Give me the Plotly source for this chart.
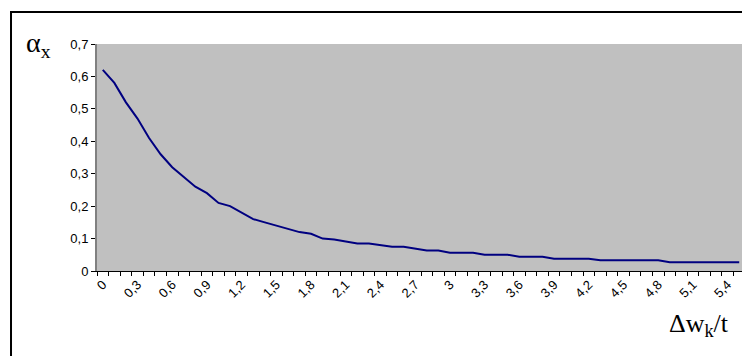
"""Зависимость alpha_x от относительного смещения"""

import plotly.graph_objects as go

# категории оси X: 0 .. 5,5 с шагом 0,1
x_labels = [f"{i / 10:g}".replace(".", ",") for i in range(56)]

alpha_x = [
    0.62, 0.58, 0.52, 0.47, 0.41, 0.36, 0.32, 0.29, 0.26, 0.24,
    0.21, 0.20, 0.18, 0.16, 0.15, 0.14, 0.13, 0.12, 0.115, 0.10,
    0.097, 0.09, 0.085, 0.085, 0.08, 0.075, 0.075, 0.07, 0.063, 0.063,
    0.056, 0.056, 0.056, 0.05, 0.05, 0.05, 0.044, 0.044, 0.044, 0.038,
    0.038, 0.038, 0.038, 0.033, 0.033, 0.033, 0.033, 0.033, 0.033, 0.027,
    0.027, 0.027, 0.027, 0.027, 0.027, 0.027,
]

x_idx = list(range(len(x_labels)))
label_idx = x_idx[::3]

fig = go.Figure()
fig.add_trace(
    go.Scatter(
        x=x_idx,
        y=alpha_x,
        mode="lines",
        line=dict(color="#000080", width=2),
        showlegend=False,
        hoverinfo="skip",
    )
)

# страница сдвигает график на 8px (отступ body), поэтому поля скорректированы
fig.update_layout(
    width=750,
    height=356,
    margin=dict(l=89, r=13, t=36, b=93, autoexpand=False),
    paper_bgcolor="white",
    plot_bgcolor="#C0C0C0",
    separators=", ",
    font=dict(family="Liberation Sans, Arial", size=13, color="black"),
    xaxis=dict(
        range=[-0.5, len(x_labels) - 0.5],
        tickvals=label_idx,
        ticktext=[x_labels[i] for i in label_idx],
        tickangle=-45,
        ticks="",
        showgrid=False,
        zeroline=False,
        showline=True,
        linecolor="black",
        linewidth=1,
        minor=dict(
            tickvals=[i - 0.5 for i in range(len(x_labels) + 1)],
            ticks="outside",
            ticklen=4,
            tickcolor="black",
            showgrid=False,
        ),
    ),
    yaxis=dict(
        range=[0, 0.7],
        dtick=0.1,
        ticks="outside",
        ticklen=4,
        tickcolor="black",
        showgrid=False,
        zeroline=False,
        showline=True,
        linecolor="#808080",
        linewidth=2,
    ),
)

# рамка диаграммы
fig.add_shape(
    type="rect",
    xref="paper",
    yref="paper",
    x0=-0.1327,
    x1=1.03,
    y0=-0.45,
    y1=1.141,
    line=dict(color="black", width=2),
    fillcolor="rgba(0,0,0,0)",
    layer="below",
)

fig.add_annotation(
    text="α<sub>x</sub>",
    xref="paper",
    yref="paper",
    x=-0.113,
    y=0.996,
    xanchor="left",
    yanchor="middle",
    showarrow=False,
    font=dict(family="Liberation Serif, Times New Roman", size=28),
)
fig.add_annotation(
    text="Δw<sub>k</sub>/t",
    xref="paper",
    yref="paper",
    x=0.978,
    y=-0.238,
    xanchor="right",
    yanchor="middle",
    showarrow=False,
    font=dict(family="Liberation Serif, Times New Roman", size=26),
)

fig.write_html("out.html")
